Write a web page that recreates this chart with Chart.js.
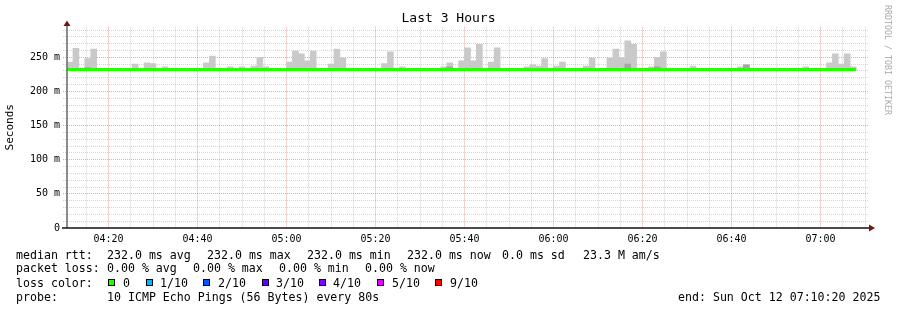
<!DOCTYPE html>
<html>
<head>
<meta charset="utf-8">
<title>Last 3 Hours</title>
<script src="https://cdn.jsdelivr.net/npm/chart.js@4.4.1/dist/chart.umd.min.js"></script>
<style>
  html, body { margin:0; padding:0; background:#fff; }
  #wrap { position:relative; width:897px; height:310px; overflow:hidden; background:#fff;
          font-family:"DejaVu Sans Mono", monospace; }
  #c { position:absolute; left:0; top:0; }
  .lg { position:absolute; white-space:pre; font-size:11.6px; line-height:14px; height:14px; color:#000; }
  .box { position:absolute; width:5px; height:5px; border:1px solid #000; }
  #wm { position:absolute; left:0; top:0; white-space:pre; font-size:8.3px; line-height:10px; color:#aaa;
        transform-origin:0 0; transform:translate(893px,5px) rotate(90deg); }
</style>
</head>
<body>
<div id="wrap">
  <canvas id="c" width="897" height="310"></canvas>
  <div id="legend"></div>
  <div id="wm">RRDTOOL / TOBI OETIKER</div>
</div>
<script>
// ---------------- data ----------------
const chartTitle = 'Last 3 Hours';
const yAxisTitle = 'Seconds';
const startTime = '04:10:40';      // first 80 s step
const stepSeconds = 80;
const spanMinutes = 180;

// smoke top per 80 s step (ms), null = no smoke above the median
const smokeTop = [
  243, 263, null, 248, 262, null, null, null, null, null,   // 0-9
  null, 240, null, 242, 241, null, 236, null, null, null,   // 10-19
  null, null, null, 242, 252, null, null, 236, null, 236,   // 20-29
  null, 237, 250, 236, null, null, null, 243, 259, 255,     // 30-39
  245, 259, null, null, 240, 262, 249, null, null, null,    // 40-49
  null, null, null, 241, 258, null, 236, null, null, null,  // 50-59
  null, null, null, 236, 242, null, 245, 264, 245, 269,     // 60-69
  null, 243, 264, null, null, null, null, 236, 239, 237,    // 70-79
  248, null, 237, 243, null, null, null, 237, 249, null,    // 80-89
  null, 249, 262, 249, 274, 269, null, null, 236, 250,      // 90-99
  258, null, null, null, null, 237, null, null, null, null, // 100-109
  null, null, null, 236, 239, null, null, null, null, null, // 110-119
  null, null, null, null, 236, null, null, null, 242, 255,  // 120-129
  240, 255, 236                                             // 130-132
];

// darker (denser) smoke band per step (ms)
const smokeDense = [
  null, null, null, 235, null, null, null, null, null, null,
  null, null, null, null, null, null, null, null, null, null,
  null, null, null, null, null, null, null, null, null, null,
  null, null, null, null, null, null, null, null, null, null,
  null, null, null, null, null, null, null, null, null, null,
  null, null, null, null, null, null, null, null, null, null,
  null, null, null, null, 236, null, null, null, null, null,
  null, null, null, null, null, null, null, null, null, null,
  null, null, null, null, null, null, null, null, null, null,
  null, null, null, null, 240, null, null, null, null, 236,
  null, null, null, null, null, null, null, null, null, null,
  null, null, null, null, 239, null, null, null, null, null,
  null, null, null, null, null, null, null, null, null, null,
  null, null, null
];

// median rtt per step (ms)
const medianRtt = [
  232, 232, 232, 232, 232, 232, 232, 232, 232, 232,
  232, 232, 232, 232, 232, 232, 232, 232, 232, 232,
  232, 232, 232, 232, 232, 232, 232, 232, 232, 232,
  232, 232, 232, 232, 232, 232, 232, 232, 232, 232,
  232, 232, 232, 232, 232, 232, 232, 232, 232, 232,
  232, 232, 232, 232, 232, 232, 232, 232, 232, 232,
  232, 232, 232, 232, 232, 232, 232, 232, 232, 232,
  232, 232, 232, 232, 232, 232, 232, 232, 232, 232,
  232, 232, 232, 232, 232, 232, 232, 232, 232, 232,
  232, 232, 232, 232, 232, 232, 232, 232, 232, 232,
  232, 232, 232, 232, 232, 232, 232, 232, 232, 232,
  232, 232, 232, 232, 232, 232, 232, 232, 232, 232,
  232, 232, 232, 232, 232, 232, 232, 232, 232, 232,
  232, 232, 232
];

const xTickLabels = ['04:20', '04:40', '05:00', '05:20', '05:40', '06:00', '06:20', '06:40', '07:00'];
const xMinorMinutes = 5;
const yTickValues = [0, 50, 100, 150, 200, 250];
const yTickLabels = ['0', '50 m', '100 m', '150 m', '200 m', '250 m'];
const yMinorStep = 10;
const yMax = 295;

const rttStats = ['232.0 ms avg', '232.0 ms max', '232.0 ms min', '232.0 ms now', '0.0 ms sd', '23.3 M am/s'];
const lossStats = ['0.00 % avg', '0.00 % max', '0.00 % min', '0.00 % now'];
const lossLabels = ['0', '1/10', '2/10', '3/10', '4/10', '5/10', '9/10'];
const lossColors = ['#26ff00', '#00b8ff', '#0059ff', '#5e00ff', '#7e00ff', '#dd00ff', '#ff0000'];
const probeText = '10 ICMP Echo Pings (56 Bytes) every 80s';
const endText = 'end: Sun Oct 12 07:10:20 2025';

// ---------------- layout ----------------
const FONT = '"DejaVu Sans Mono", monospace';
const rowTop = [248, 261.3, 275.7, 289.7];
const rttX = [107, 207, 307, 407, 502, 583];
const lossX = [107, 193, 279, 365];
const lossBoxX = [108, 146, 203, 262, 319, 377, 435];
const lossLabelX = [123, 160, 218, 276, 333, 392, 450];

// ---------------- build ----------------
const toMin = s => { const p = s.split(':').map(Number); return p[0] * 60 + p[1] + (p[2] || 0) / 60; };
const t0 = toMin(startTime);
const stepMin = stepSeconds / 60;
const tEnd = t0 + spanMinutes;
const n = medianRtt.length;

const barPoints = arr => arr.map((v, i) => v == null ? null : ({ x: t0 + (i + 0.5) * stepMin, y: [medianRtt[i], v] }))
                            .filter(p => p !== null);
const lineData = medianRtt.map((v, i) => ({ x: t0 + i * stepMin, y: v }))
                          .concat([{ x: t0 + n * stepMin, y: medianRtt[n - 1] }]);

const majorX = xTickLabels.map(toMin);
const xGrid = [];
for (let m = Math.ceil(t0 / xMinorMinutes) * xMinorMinutes; m <= tEnd; m += xMinorMinutes) xGrid.push(m);
const yGrid = [];
for (let v = 0; v <= yMax; v += yMinorStep) yGrid.push(v);

const MINOR = 'rgba(143,143,143,0.38)';
const MAJOR = 'rgba(225,75,75,0.5)';

const rrdAxes = {
  id: 'rrdAxes',
  afterDraw(chart) {
    const { ctx, chartArea: a } = chart;
    ctx.save();
    ctx.lineWidth = 1.5;
    ctx.strokeStyle = '#666';
    ctx.beginPath(); ctx.moveTo(a.left, a.top - 2); ctx.lineTo(a.left, a.bottom); ctx.stroke();
    ctx.strokeStyle = '#111';
    ctx.beginPath(); ctx.moveTo(a.left - 5, a.bottom); ctx.lineTo(a.right + 1, a.bottom); ctx.stroke();
    ctx.fillStyle = '#7a1414';
    ctx.beginPath(); ctx.moveTo(a.left, a.top - 6); ctx.lineTo(a.left - 3.5, a.top - 0.5); ctx.lineTo(a.left + 3.5, a.top - 0.5); ctx.closePath(); ctx.fill();
    ctx.beginPath(); ctx.moveTo(a.right + 7, a.bottom); ctx.lineTo(a.right + 1, a.bottom - 3.5); ctx.lineTo(a.right + 1, a.bottom + 3.5); ctx.closePath(); ctx.fill();
    ctx.restore();
  }
};

new Chart(document.getElementById('c'), {
  type: 'bar',
  data: {
    datasets: [
      { type: 'line', label: 'median rtt', data: lineData, borderColor: '#26ff00', borderWidth: 3,
        pointRadius: 0, stepped: true, borderCapStyle: 'butt', order: 0, yAxisID: 'y' },
      { type: 'bar', label: 'smoke dense', data: barPoints(smokeDense), backgroundColor: '#a6a6a6',
        grouped: false, barPercentage: 1, categoryPercentage: 1, borderWidth: 0, order: 1, yAxisID: 'y' },
      { type: 'bar', label: 'smoke', data: barPoints(smokeTop), backgroundColor: '#c9c9c9',
        grouped: false, barPercentage: 1, categoryPercentage: 1, borderWidth: 0, order: 2, yAxisID: 'y' }
    ]
  },
  options: {
    responsive: false, animation: false, devicePixelRatio: 1,
    layout: { padding: 0 },
    plugins: {
      legend: { display: false }, tooltip: { enabled: false },
      title: { display: true, text: chartTitle, color: '#000',
               font: { family: FONT, size: 13, weight: 'normal' }, padding: { top: 11, bottom: 0 } }
    },
    scales: {
      x: {
        type: 'linear', min: t0, max: tEnd, offset: false,
        afterFit(s) { s.height = 82; },
        afterBuildTicks(s) { s.ticks = xGrid.map(v => ({ value: v })); },
        ticks: { autoSkip: false, maxRotation: 0, padding: 5, color: '#000',
                 font: { family: FONT, size: 10 },
                 callback: v => { const k = majorX.indexOf(v); return k >= 0 ? xTickLabels[k] : ''; } },
        grid: { offset: false, drawTicks: false, lineWidth: 1,
                color: c => (majorX.indexOf(c.tick.value) >= 0 ? MAJOR : MINOR) },
        border: { display: false, dash: [1, 1] }
      },
      y: {
        type: 'linear', position: 'left', min: 0, max: yMax,
        afterFit(s) { s.width = 67; },
        afterBuildTicks(s) { s.ticks = yGrid.map(v => ({ value: v })); },
        ticks: { autoSkip: false, padding: 3, color: '#000', font: { family: FONT, size: 10 },
                 callback: v => { const k = yTickValues.indexOf(v); return k >= 0 ? yTickLabels[k] : ''; } },
        grid: { drawTicks: true, tickLength: 4, tickBorderDash: [1, 1], lineWidth: 1,
                color: c => (c.tick.value === 0 ? 'rgba(0,0,0,0)' : (c.tick.value % 50 === 0 ? MAJOR : MINOR)) },
        border: { display: false, dash: [1, 1] },
        title: { display: true, text: yAxisTitle, color: '#000', font: { family: FONT, size: 11 },
                 padding: { top: 4, bottom: 0 } }
      },
      yRight: {
        type: 'linear', position: 'right', display: true,
        afterFit(s) { s.width = 29; },
        grid: { display: false }, ticks: { display: false }, border: { display: false }
      }
    }
  },
  plugins: [rrdAxes]
});

// ---------------- legend text ----------------
const legend = document.getElementById('legend');
function addText(x, top, text) {
  const d = document.createElement('div');
  d.className = 'lg'; d.style.left = x + 'px'; d.style.top = top + 'px'; d.textContent = text;
  legend.appendChild(d);
}
addText(16, rowTop[0], 'median rtt:');
rttStats.forEach((s, i) => addText(rttX[i], rowTop[0], s));
addText(16, rowTop[1], 'packet loss:');
lossStats.forEach((s, i) => addText(lossX[i], rowTop[1], s));
addText(16, rowTop[2], 'loss color:');
lossLabels.forEach((s, i) => {
  const b = document.createElement('div');
  b.className = 'box'; b.style.left = lossBoxX[i] + 'px'; b.style.top = (rowTop[2] + 3.5) + 'px';
  b.style.background = lossColors[i];
  legend.appendChild(b);
  addText(lossLabelX[i], rowTop[2], s);
});
addText(16, rowTop[3], 'probe:');
addText(107, rowTop[3], probeText);
addText(678, rowTop[3], endText);
</script>
</body>
</html>
